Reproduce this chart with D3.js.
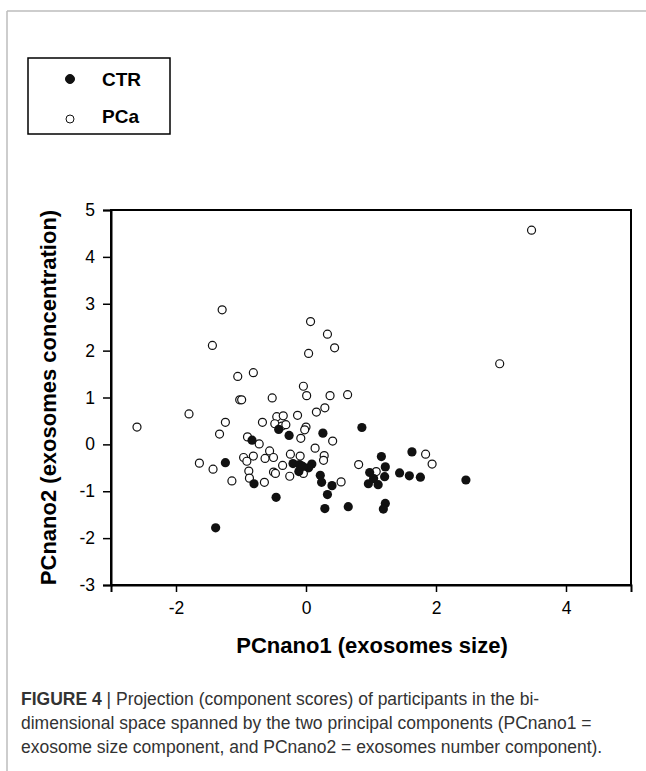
<!DOCTYPE html>
<html>
<head>
<meta charset="utf-8">
<script src="https://cdn.jsdelivr.net/npm/d3@7"></script>
<style>
  body { margin: 0; background: #fff; }
  svg { display: block; }
</style>
</head>
<body>
<script>
// CTR group (filled markers): [PCnano1, PCnano2]
var ctr = [
  [-1.39, -1.78], [-1.24, -0.39], [-0.83, 0.09], [-0.80, -0.84], [-0.46, -1.13],
  [-0.42, 0.32], [-0.26, 0.19], [-0.20, -0.41], [-0.10, -0.43], [-0.11, -0.58],
  [0.09, -0.42], [0.04, -0.50], [-0.05, -0.47], [0.26, 0.24], [0.86, 0.36],
  [0.22, -0.66], [0.24, -0.81], [0.40, -0.88], [0.33, -1.07], [0.29, -1.37],
  [0.65, -1.33], [1.16, -0.26], [1.22, -0.48], [0.98, -0.60], [0.96, -0.84],
  [1.04, -0.73], [1.11, -0.86], [1.21, -0.69], [1.22, -1.26], [1.19, -1.38],
  [1.44, -0.61], [1.59, -0.67], [1.76, -0.70], [1.63, -0.16], [2.46, -0.76]
];

// PCa group (open markers)
var pca = [
  [-2.60, 0.37], [-1.80, 0.65], [-1.64, -0.40], [-1.43, -0.53], [-1.33, 0.22],
  [-1.24, 0.47], [-1.29, 2.87], [-1.44, 2.11], [-1.05, 1.45], [-0.81, 1.53],
  [-1.02, 0.95], [-0.99, 0.95], [-0.52, 0.99], [-1.14, -0.78], [-0.90, 0.16],
  [-0.72, 0.01], [-0.67, 0.47], [-0.96, -0.28], [-0.91, -0.36], [-0.81, -0.25],
  [-0.88, -0.57], [-0.87, -0.72], [-0.64, -0.81], [-0.63, -0.30], [-0.56, -0.14],
  [-0.50, -0.28], [-0.36, -0.45], [-0.50, -0.59], [-0.47, -0.62], [-0.25, -0.68],
  [-0.24, -0.21], [-0.09, -0.25], [-0.04, -0.62], [-0.45, 0.59], [-0.35, 0.61],
  [-0.13, 0.62], [0.16, 0.69], [0.29, 0.78], [-0.48, 0.44], [-0.37, 0.39],
  [-0.31, 0.42], [0.00, 0.37], [-0.02, 0.31], [-0.08, 0.13], [0.41, 0.07],
  [0.14, -0.08], [0.28, -0.24], [0.27, -0.34], [0.54, -0.80], [0.81, -0.43],
  [1.08, -0.58], [1.84, -0.21], [1.94, -0.42], [2.98, 1.72], [3.47, 4.57],
  [0.07, 2.62], [0.33, 2.35], [0.44, 2.06], [0.04, 1.94], [-0.04, 1.24],
  [0.01, 1.04], [0.37, 1.04], [0.64, 1.06]
];

var xTicks = [-2, 0, 2, 4];
var yTicks = [-3, -2, -1, 0, 1, 2, 3, 4, 5];
var legendItems = ["CTR", "PCa"];

var W = 646, H = 771;
var margin = { top: 210, right: 15, bottom: 186, left: 111 };
var width = W - margin.left - margin.right;
var height = H - margin.top - margin.bottom;
var font = "Liberation Sans, Arial, sans-serif";

var svg = d3.select("body").append("svg")
  .attr("width", W)
  .attr("height", H);

// page frame (grey lines at top and left)
svg.append("line").attr("x1", 7).attr("x2", W).attr("y1", 11).attr("y2", 11)
  .attr("stroke", "#bdbdbd").attr("stroke-width", 1.5);
svg.append("line").attr("x1", 7).attr("x2", 7).attr("y1", 11).attr("y2", H)
  .attr("stroke", "#bdbdbd").attr("stroke-width", 1.5);

// legend
var leg = svg.append("g").attr("transform", "translate(28,58)");
leg.append("rect").attr("width", 142).attr("height", 76)
  .attr("fill", "none").attr("stroke", "#000").attr("stroke-width", 1.5);
leg.selectAll("circle").data(legendItems).enter().append("circle")
  .attr("cx", 42)
  .attr("cy", function (d, i) { return 21 + i * 40; })
  .attr("r", function (d, i) { return i === 0 ? 4.5 : 4; })
  .attr("fill", function (d, i) { return i === 0 ? "#111" : "#fff"; })
  .attr("stroke", "#111").attr("stroke-width", 1);
leg.selectAll("text").data(legendItems).enter().append("text")
  .attr("x", 74)
  .attr("y", function (d, i) { return 28 + i * 37; })
  .attr("font-family", font)
  .attr("font-weight", "bold")
  .attr("font-size", 19)
  .text(function (d) { return d; });

var g = svg.append("g")
  .attr("transform", "translate(" + margin.left + "," + margin.top + ")");

var x = d3.scaleLinear().domain([-3, 5]).range([0, width]);
var y = d3.scaleLinear().domain([-3, 5]).range([height, 0]);

// box
g.append("rect").attr("width", width).attr("height", height)
  .attr("fill", "none").attr("stroke", "#000").attr("stroke-width", 2);

var xAxis = g.append("g")
  .attr("transform", "translate(0," + height + ")")
  .call(d3.axisBottom(x).tickValues(xTicks).tickSize(7).tickPadding(10).tickFormat(d3.format("d")));
var yAxis = g.append("g")
  .call(d3.axisLeft(y).tickValues(yTicks).tickSize(8).tickPadding(8).tickFormat(d3.format("d")));

[xAxis, yAxis].forEach(function (a) {
  a.select(".domain").attr("stroke-width", 2);
  a.selectAll(".tick line").attr("stroke-width", 1.5);
  a.selectAll("text")
    .attr("font-family", font)
    .attr("font-size", 17.5)
    .attr("fill", "#000")
    .text(function (d) { return d < 0 ? "-" + Math.abs(d) : d; });
});

// points
g.selectAll(".pca").data(pca).enter().append("circle")
  .attr("class", "pca")
  .attr("cx", function (d) { return x(d[0]); })
  .attr("cy", function (d) { return y(d[1]); })
  .attr("r", 4)
  .attr("fill", "#fff")
  .attr("stroke", "#111")
  .attr("stroke-width", 1.2);

g.selectAll(".ctr").data(ctr).enter().append("circle")
  .attr("class", "ctr")
  .attr("cx", function (d) { return x(d[0]); })
  .attr("cy", function (d) { return y(d[1]); })
  .attr("r", 4.6)
  .attr("fill", "#111");

// axis titles
svg.append("text")
  .attr("x", 372)
  .attr("y", 653)
  .attr("text-anchor", "middle")
  .attr("font-family", font)
  .attr("font-weight", "bold")
  .attr("font-size", 22)
  .text("PCnano1 (exosomes size)");

svg.append("text")
  .attr("transform", "translate(56," + (margin.top + height / 2) + ") rotate(-90)")
  .attr("text-anchor", "middle")
  .attr("font-family", font)
  .attr("font-weight", "bold")
  .attr("font-size", 22)
  .text("PCnano2 (exosomes concentration)");

// caption
var caption = [
  ["FIGURE 4", " | Projection (component scores) of participants in the bi-"],
  ["", "dimensional space spanned by the two principal components (PCnano1 ="],
  ["", "exosome size component, and PCnano2 = exosomes number component)."]
];
var cap = svg.append("text")
  .attr("font-family", font)
  .attr("font-size", 17.5)
  .attr("fill", "#333");
caption.forEach(function (line, i) {
  var t = cap.append("tspan").attr("x", 21).attr("y", 705 + i * 24);
  if (line[0]) t.append("tspan").attr("font-weight", "bold").text(line[0]);
  t.append("tspan").text(line[1]);
});
</script>
</body>
</html>
